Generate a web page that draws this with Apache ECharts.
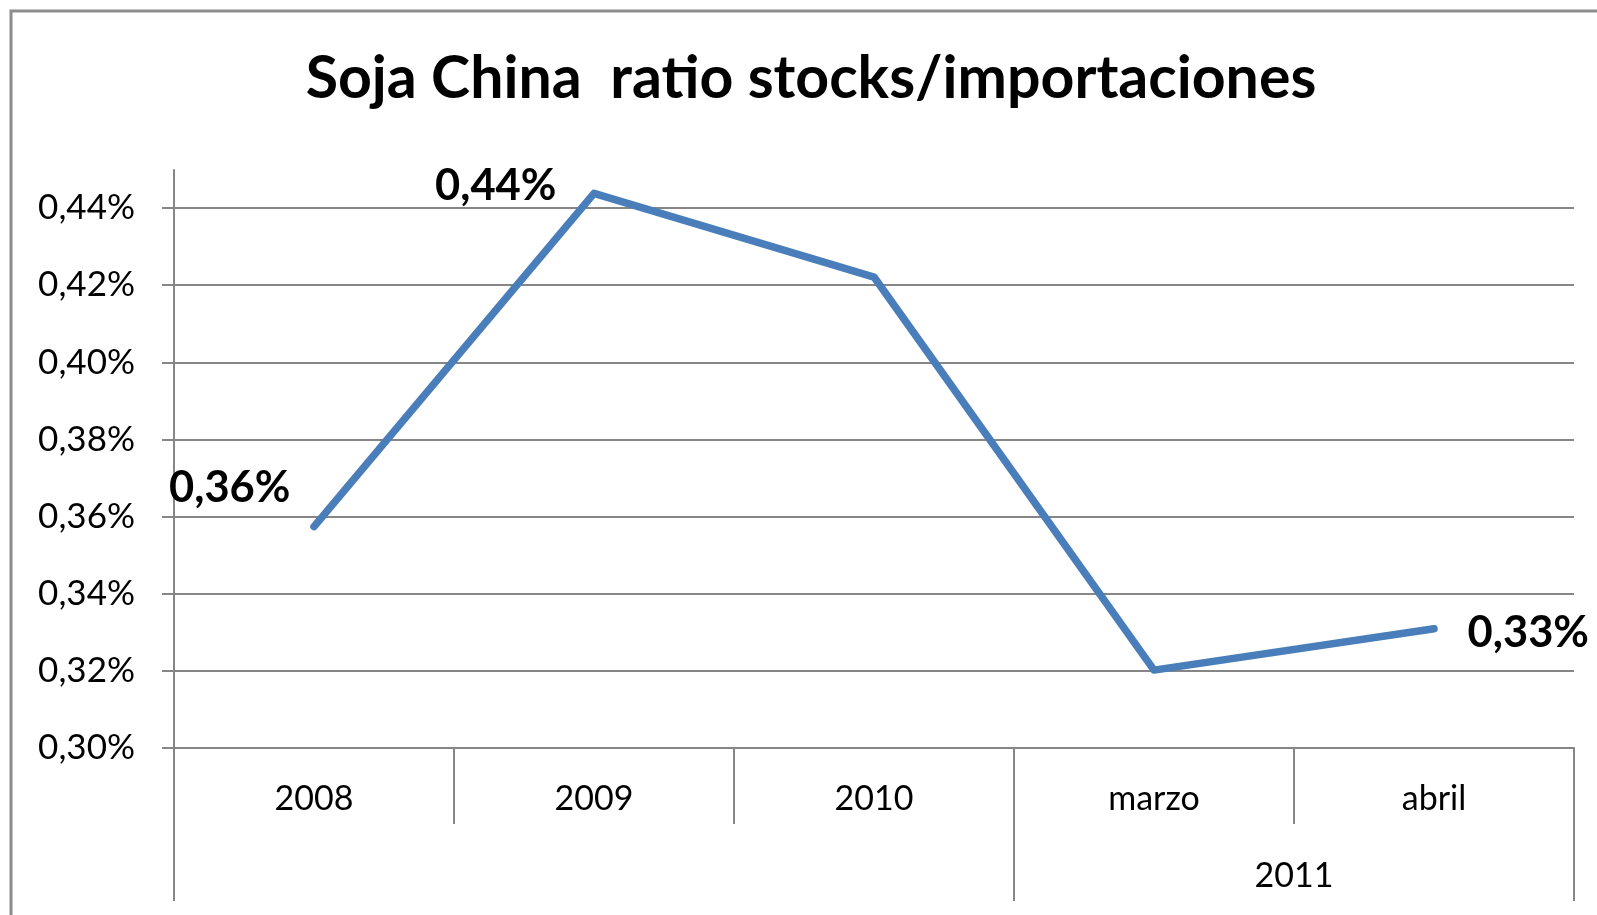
<!DOCTYPE html>
<html>
<head>
<meta charset="utf-8">
<script src="https://cdn.jsdelivr.net/npm/echarts@6/dist/echarts.min.js"></script>
<style>html,body{margin:0;padding:0;background:#fff;}#c{width:1597px;height:915px;}</style>
</head>
<body>
<div id="c"></div>
<script>
const titleText = 'Soja China  ratio stocks/importaciones';
const categories = ['2008', '2009', '2010', 'marzo', 'abril'];
const values = [0.3574, 0.4438, 0.4221, 0.3202, 0.3309];
const labelled = [true, true, false, false, true];
const groupLabel = '2011';
const yTicks = { min: 0.30, max: 0.44, interval: 0.02 };

const FONT = 'Lato';
const GRAY = '#868686';
const fmt = v => v.toFixed(2).replace('.', ',') + '%';

const labelCfg = [
  { position: 'left', distance: 27, offset: [4, -39] },
  { position: 'left', distance: 38, offset: [1, -7] },
  null, null,
  { position: 'right', distance: 33, offset: [0, 4] }
];

const seriesData = values.map((v, i) => {
  const d = { value: v };
  if (labelled[i]) {
    d.label = Object.assign({ show: true }, labelCfg[i]);
  } else {
    d.label = { show: false };
  }
  return d;
});

const chart = echarts.init(document.getElementById('c'));
chart.setOption({
  backgroundColor: '#fff',
  animation: false,
  title: {
    text: titleText,
    left: 806, top: 44, textAlign: 'center',
    textStyle: { fontFamily: FONT, fontWeight: 'bold', fontSize: 59, color: '#000' }
  },
  graphic: [{
    type: 'rect', shape: { x: 11, y: 11, width: 1700, height: 1000 },
    style: { fill: null, stroke: '#8c8c8c', lineWidth: 3 }, silent: true
  }],
  grid: [
    { left: 174, right: 23, top: 208, bottom: 167, containLabel: false },
    { left: 174, right: 23, top: 170, bottom: 167, containLabel: false }
  ],
  xAxis: [
    {
      type: 'category', gridIndex: 0, data: categories, boundaryGap: true, position: 'bottom',
      axisLine: { show: true, lineStyle: { color: GRAY, width: 2 } },
      axisTick: { show: true, interval: 0, length: 76, lineStyle: { color: GRAY, width: 2 } },
      axisLabel: { interval: 0, margin: 34, color: '#000', fontFamily: FONT, fontSize: 34 },
      splitLine: { show: false }
    },
    {
      type: 'value', gridIndex: 1, min: 0, max: categories.length, position: 'bottom',
      axisLine: { show: false },
      axisTick: { show: true, customValues: [0, 3, categories.length], length: 153, lineStyle: { color: GRAY, width: 2 } },
      axisLabel: { show: true, customValues: [4], formatter: () => groupLabel, margin: 111, color: '#000', fontFamily: FONT, fontSize: 34 },
      splitLine: { show: false }
    }
  ],
  yAxis: [
    {
      type: 'value', gridIndex: 0, min: yTicks.min, max: yTicks.max, interval: yTicks.interval,
      axisLine: { show: false },
      axisTick: { show: true, length: 12, lineStyle: { color: GRAY, width: 2 } },
      axisLabel: { formatter: fmt, margin: 39, color: '#000', fontFamily: FONT, fontSize: 35 },
      splitLine: { show: true, lineStyle: { color: GRAY, width: 2 } }
    },
    {
      type: 'value', gridIndex: 1, min: 0, max: 1,
      axisLine: { show: true, lineStyle: { color: GRAY, width: 2 } },
      axisTick: { show: false }, axisLabel: { show: false }, splitLine: { show: false }
    }
  ],
  series: [{
    type: 'line', xAxisIndex: 0, yAxisIndex: 0, data: seriesData,
    clip: false,
    showSymbol: true, symbol: 'circle', symbolSize: 1,
    itemStyle: { color: 'rgba(0,0,0,0)', borderWidth: 0 },
    lineStyle: { color: '#4a7ebb', width: 7.5, cap: 'round', join: 'round' },
    label: { formatter: p => fmt(p.value), fontFamily: FONT, fontWeight: 'bold', fontSize: 43.5, color: '#000' }
  }]
});
</script>
</body>
</html>
